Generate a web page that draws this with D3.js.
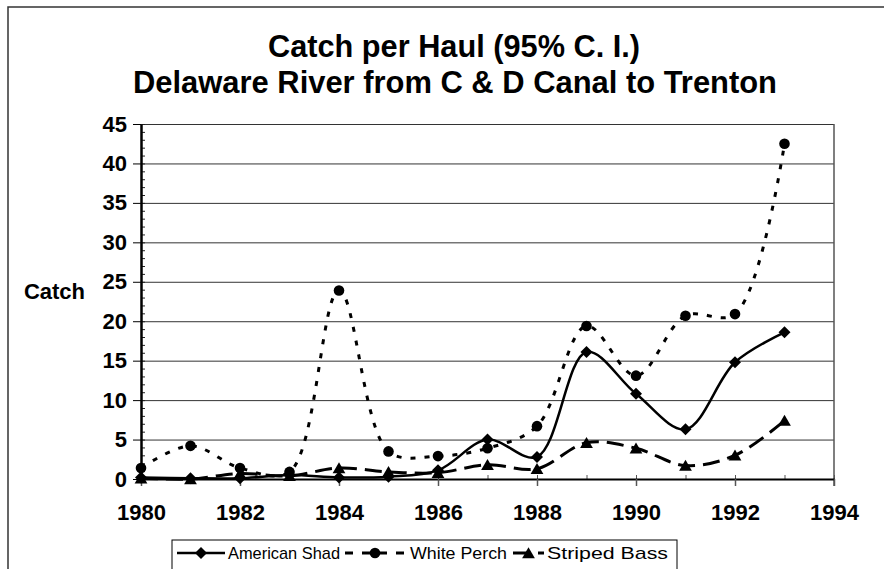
<!DOCTYPE html>
<html>
<head>
<meta charset="utf-8">
<script src="https://cdn.jsdelivr.net/npm/d3@7"></script>
<style>
body { margin: 0; background: #fff; }
text { font-family: "Liberation Sans", Arial, sans-serif; fill: #000; }
</style>
</head>
<body>
<svg width="884" height="569"></svg>
<script>
var years = [1980, 1981, 1982, 1983, 1984, 1985, 1986, 1987, 1988, 1989, 1990, 1991, 1992, 1993];
var shad  = [0.2, 0.1, 0.1, 0.5, 0.2, 0.3, 1.1, 5.0, 2.8, 16.1, 10.8, 6.3, 14.8, 18.6];
var perch = [1.4, 4.2, 1.4, 0.9, 23.9, 3.5, 2.9, 3.9, 6.7, 19.4, 13.1, 20.7, 20.9, 42.5];
var bass  = [0.1, 0.0, 0.7, 0.4, 1.4, 0.9, 0.8, 1.8, 1.3, 4.6, 3.9, 1.7, 3.0, 7.4];
var seriesNames = ["American Shad", "White Perch", "Striped Bass"];
var yTicks = [0, 5, 10, 15, 20, 25, 30, 35, 40, 45];
var xTicks = [1980, 1982, 1984, 1986, 1988, 1990, 1992, 1994];

var svg = d3.select("svg"),
  width = +svg.attr("width"),
  height = +svg.attr("height");

var x = d3.scaleLinear().domain([1980, 1994]).range([141, 834]);
var y = d3.scaleLinear().domain([0, 45]).range([479, 124]);

// outer chart frame (cropped at right and bottom)
svg.append("path")
  .attr("d", "M8,600V7H900")
  .attr("fill", "none").attr("stroke", "#333").attr("stroke-width", 1.5);

// title
svg.append("text").attr("x", 454).attr("y", 57)
  .attr("text-anchor", "middle").attr("font-size", 31).attr("font-weight", "bold")
  .attr("textLength", 372).attr("lengthAdjust", "spacingAndGlyphs")
  .text("Catch per Haul (95% C. I.)");
svg.append("text").attr("x", 455).attr("y", 93)
  .attr("text-anchor", "middle").attr("font-size", 31).attr("font-weight", "bold")
  .attr("textLength", 644).attr("lengthAdjust", "spacingAndGlyphs")
  .text("Delaware River from C & D Canal to Trenton");

// gridlines
svg.append("g")
  .attr("transform", "translate(141,0)")
  .call(d3.axisLeft(y).tickValues(yTicks.slice(1)).tickSize(-(834 - 141)).tickFormat(""))
  .call(function(g) {
    g.select(".domain").remove();
    g.selectAll("line").attr("stroke", "#333").attr("stroke-width", 1);
  });

// right edge of plot area
svg.append("line")
  .attr("x1", 834).attr("x2", 834).attr("y1", y(45)).attr("y2", y(0) + 7)
  .attr("stroke", "#555").attr("stroke-width", 1.5);

// y minor ticks
svg.append("g")
  .attr("transform", "translate(141,0)")
  .call(d3.axisRight(y).tickValues(d3.range(0, 46)).tickSize(4).tickFormat(""))
  .call(function(g) {
    g.select(".domain").remove();
    g.selectAll("line").attr("stroke", "#222");
  });

// y axis
svg.append("g")
  .attr("transform", "translate(141,0)")
  .call(d3.axisLeft(y).tickValues(yTicks).tickSize(8).tickPadding(6).tickSizeOuter(0))
  .call(function(g) {
    g.select(".domain").attr("stroke", "#000").attr("stroke-width", 2.5);
    g.selectAll("line").attr("stroke", "#000");
    g.selectAll("text").attr("font-size", 22).attr("font-weight", "bold")
      .attr("font-family", "Liberation Sans, Arial, sans-serif");
  });

// x minor ticks (upward)
svg.append("g")
  .attr("transform", "translate(0,479)")
  .call(d3.axisTop(x).tickValues(d3.range(1980, 1995)).tickSize(4).tickFormat(""))
  .call(function(g) {
    g.select(".domain").remove();
    g.selectAll("line").attr("stroke", "#555");
  });

// x axis
svg.append("g")
  .attr("transform", "translate(0,479)")
  .call(d3.axisBottom(x).tickValues(xTicks).tickFormat(d3.format("d")).tickSize(7).tickPadding(18).tickSizeOuter(0))
  .call(function(g) {
    g.select(".domain").attr("stroke", "#000").attr("stroke-width", 2);
    g.selectAll("line").attr("stroke", "#555").attr("stroke-width", 1.5);
    g.selectAll("text").attr("font-size", 22).attr("font-weight", "bold")
      .attr("font-family", "Liberation Sans, Arial, sans-serif");
  });

// y axis title
svg.append("text").attr("x", 85).attr("y", 291).attr("dy", "0.35em")
  .attr("text-anchor", "end").attr("font-size", 22).attr("font-weight", "bold")
  .text("Catch");

// marker shapes
function diamond(s) { return "M0," + (-s) + "L" + s + ",0L0," + s + "L" + (-s) + ",0Z"; }
function triangle(s) { return "M0," + (-s) + "L" + (s * 1.1) + "," + (s * 0.9) + "L" + (-s * 1.1) + "," + (s * 0.9) + "Z"; }

var series = [
  { name: seriesNames[0], values: shad,  dash: null,   width: 2.5, marker: "diamond" },
  { name: seriesNames[1], values: perch, dash: "5,9",  width: 3,   marker: "circle" },
  { name: seriesNames[2], values: bass,  dash: "17,8", width: 3,   marker: "triangle" }
];

var line = d3.line()
  .x(function(d, i) { return x(years[i]); })
  .y(function(d) { return y(d); })
  .curve(d3.curveCatmullRom.alpha(0.5));

function drawMarker(sel, type) {
  if (type === "circle") {
    sel.append("circle").attr("r", 5.3).attr("fill", "#000");
  } else if (type === "diamond") {
    sel.append("path").attr("d", diamond(6)).attr("fill", "#000");
  } else {
    sel.append("path").attr("d", triangle(5.8)).attr("fill", "#000");
  }
}

series.forEach(function(s) {
  var g = svg.append("g").attr("class", "series");
  g.append("path")
    .datum(s.values)
    .attr("d", line)
    .attr("fill", "none")
    .attr("stroke", "#000")
    .attr("stroke-width", s.width)
    .attr("stroke-dasharray", s.dash);
  g.selectAll("g.pt")
    .data(s.values)
    .enter().append("g")
    .attr("class", "pt")
    .attr("transform", function(d, i) { return "translate(" + x(years[i]) + "," + y(d) + ")"; })
    .each(function() { drawMarker(d3.select(this), s.marker); });
});

// legend
var legend = svg.append("g");
legend.append("rect")
  .attr("x", 172).attr("y", 540).attr("width", 505).attr("height", 40)
  .attr("fill", "#fff").attr("stroke", "#000").attr("stroke-width", 1);

var legendItems = [
  { x0: 177, x1: 225, tx: 228, tl: 112 },
  { x0: 345, x1: 405, tx: 410, tl: 97 },
  { x0: 513, x1: 544, tx: 547, tl: 121 }
];
var ly = 553;
series.forEach(function(s, i) {
  var it = legendItems[i];
  var cx = (it.x0 + it.x1) / 2;
  legend.append("line")
    .attr("x1", it.x0).attr("x2", it.x1).attr("y1", ly).attr("y2", ly)
    .attr("stroke", "#000").attr("stroke-width", s.width)
    .attr("stroke-dasharray", s.dash ? (i === 1 ? "8,9" : "17,8") : null);
  var m = legend.append("g").attr("transform", "translate(" + cx + "," + ly + ")");
  drawMarker(m, s.marker);
  legend.append("text")
    .attr("x", it.tx).attr("y", ly).attr("dy", "0.35em")
    .attr("font-size", 17)
    .attr("textLength", it.tl).attr("lengthAdjust", "spacingAndGlyphs")
    .text(s.name);
});
</script>
</body>
</html>
